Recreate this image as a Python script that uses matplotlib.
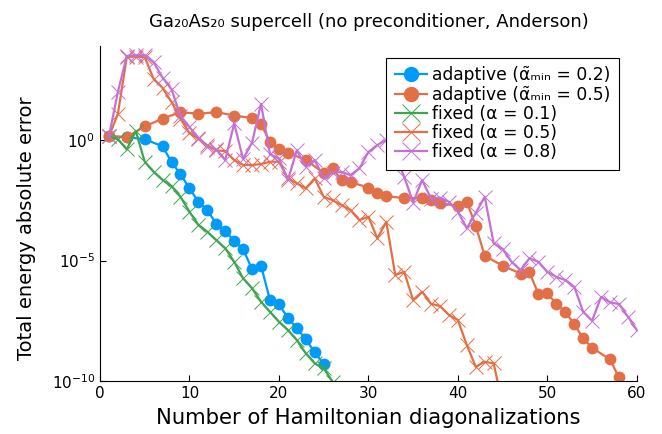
import numpy as np
import matplotlib
matplotlib.use("Agg")
import matplotlib.pyplot as plt

# iterations (number of Hamiltonian diagonalizations) and energy errors
n_adapt02 = [1, 3, 5, 7, 8, 9, 10, 11, 12, 13, 14, 15, 16, 17, 18, 19, 20, 21, 22, 23, 24, 25]
err_adapt02 = [1.42, 1.33, 1.08, 5.5e-1, 1.22e-1, 3.8e-2, 1.0e-2, 2.75e-3, 1.25e-3, 3.3e-4,
               1.67e-4, 6.6e-5, 3.0e-5, 4.3e-6, 6.1e-6, 2.3e-7, 1.52e-7, 4.2e-8, 1.54e-8,
               5.4e-9, 1.55e-9, 5.1e-10]

n_adapt05 = [1, 3, 5, 7, 9, 11, 13, 15, 17, 18, 19, 20, 21, 23, 25, 26, 27, 28, 30, 31, 32,
             34, 36, 37, 38, 40, 41, 42, 43, 45, 47, 48, 49, 50, 51, 52, 53, 54, 55, 57, 58]
err_adapt05 = [1.42, 1.33, 3.7, 7.7, 14.5, 12.3, 14.5, 10.4, 8.2, 4.6, 0.85, 0.42, 0.30,
               0.148, 0.044, 0.067, 0.021, 0.018, 0.0107, 0.0061, 0.0047, 0.0039, 0.0039,
               0.0032, 0.00243, 0.00182, 0.00275, 2.7e-4, 1.58e-5, 6.1e-6, 2.9e-6, 3.2e-6,
               4.1e-7, 4.4e-7, 1.57e-7, 7.5e-8, 2.3e-8, 5.9e-9, 2.4e-9, 7.9e-10, 1.43e-10]

n_fixed01 = list(range(1, 27))
err_fixed01 = [1.42, 1.07, 0.41, 2.4, 0.126, 0.048, 0.022, 0.0123, 0.0044, 1.06e-3, 3.0e-4,
               1.57e-4, 7.1e-5, 3.2e-5, 8.9e-6, 1.82e-6, 7.0e-7, 1.95e-7, 7.5e-8, 2.9e-8,
               1.31e-8, 5.0e-9, 1.41e-9, 5.4e-10, 3.4e-10, 9.4e-11]

n_fixed05 = list(range(1, 46))
err_fixed05 = [1.42, 12, 2.8e3, 2.9e3, 2.8e3, 340, 144, 38, 7.7, 1.95, 1.13, 0.60, 0.37, 0.35,
               0.148, 0.092, 0.092, 0.101, 0.126, 0.126, 0.026, 0.016, 0.0099, 0.026, 0.0044,
               0.0032, 0.0020, 0.00125, 4.8e-4, 6.6e-4, 8.3e-5, 4.1e-4, 2.5e-6, 3.4e-6, 2.3e-7,
               5.1e-7, 1.61e-7, 1.29e-7, 5.5e-8, 3.4e-8, 3.1e-9, 3.9e-10, 6.3e-10, 5.4e-10, 1e-11]

n_fixed08 = list(range(1, 61))
err_fixed08 = [1.42, 98, 3.1e3, 3.3e3, 3.3e3, 1.7e3, 385, 127, 9.9, 3.5, 1.25, 0.52, 0.41,
               0.148, 4.9, 0.163, 0.79, 32, 0.26, 0.174, 0.022, 0.38, 0.078, 0.148, 0.026,
               0.044, 0.048, 0.035, 0.067, 0.32, 0.62, 1.0, 0.24, 0.030, 0.00255, 0.022,
               0.0037, 0.0041, 0.00275, 1.06e-3, 2.2e-4, 9.4e-4, 0.0044, 5.2e-5, 3.0e-5,
               8.9e-6, 4.0e-6, 1.23e-5, 8.9e-6, 3.4e-6, 2.1e-6, 1.55e-6, 8.2e-7, 7.5e-8,
               3.2e-8, 3.1e-7, 1.84e-7, 1.57e-7, 4.7e-8, 1.31e-8]

blue = "#009AFA"
orange = "#E36F47"
green = "#3EA44E"
purple = "#C371D2"

fig = plt.figure(figsize=(6.62, 4.34), dpi=100)
ax = fig.add_axes([0.151, 0.122, 0.811, 0.772])

ax.plot(n_adapt02, err_adapt02, color=blue, lw=1.6, marker="o", ms=8.5, mew=0,
        label="adaptive (α̃ₘᵢₙ = 0.2)")
ax.plot(n_adapt05, err_adapt05, color=orange, lw=1.6, marker="o", ms=8.5, mew=0,
        label="adaptive (α̃ₘᵢₙ = 0.5)")
ax.plot(n_fixed01, err_fixed01, color=green, lw=1.6, marker="x", ms=10, mew=0.7,
        label="fixed (α = 0.1)")
ax.plot(n_fixed05, err_fixed05, color=orange, lw=1.6, marker="x", ms=10, mew=0.7,
        label="fixed (α = 0.5)")
ax.plot(n_fixed08, err_fixed08, color=purple, lw=1.6, marker="x", ms=10, mew=0.7,
        label="fixed (α = 0.8)")

ax.set_yscale("log")
ax.set_xlim(0, 60)
ax.set_ylim(1e-10, 8e3)
ax.set_xticks([0, 10, 20, 30, 40, 50, 60])
ax.set_yticks([1, 1e-5, 1e-10])
ax.set_yticklabels([r"$10^{0}$", r"$10^{-5}$", r"$10^{-10}$"])
ax.minorticks_off()
ax.tick_params(direction="in", length=4, width=0.8, labelsize=11)
for s in ["top", "right"]:
    ax.spines[s].set_visible(False)
ax.set_xlabel("Number of Hamiltonian diagonalizations", fontsize=15.2, labelpad=5)
ax.set_ylabel("Total energy absolute error", fontsize=14)
ax.yaxis.set_label_coords(-0.12, 0.455)
ax.set_title("Ga₂₀As₂₀ supercell (no preconditioner, Anderson)", fontsize=13, pad=14)

leg = ax.legend(loc="upper right", bbox_to_anchor=(0.967, 0.965), borderaxespad=0,
                fontsize=12.3, fancybox=False, edgecolor="black", framealpha=1,
                handlelength=1.9, labelspacing=0.07, markerscale=1.3,
                borderpad=0.5, handletextpad=0.3)
leg.get_frame().set_linewidth(0.8)

fig.savefig("out.png", dpi=100)
